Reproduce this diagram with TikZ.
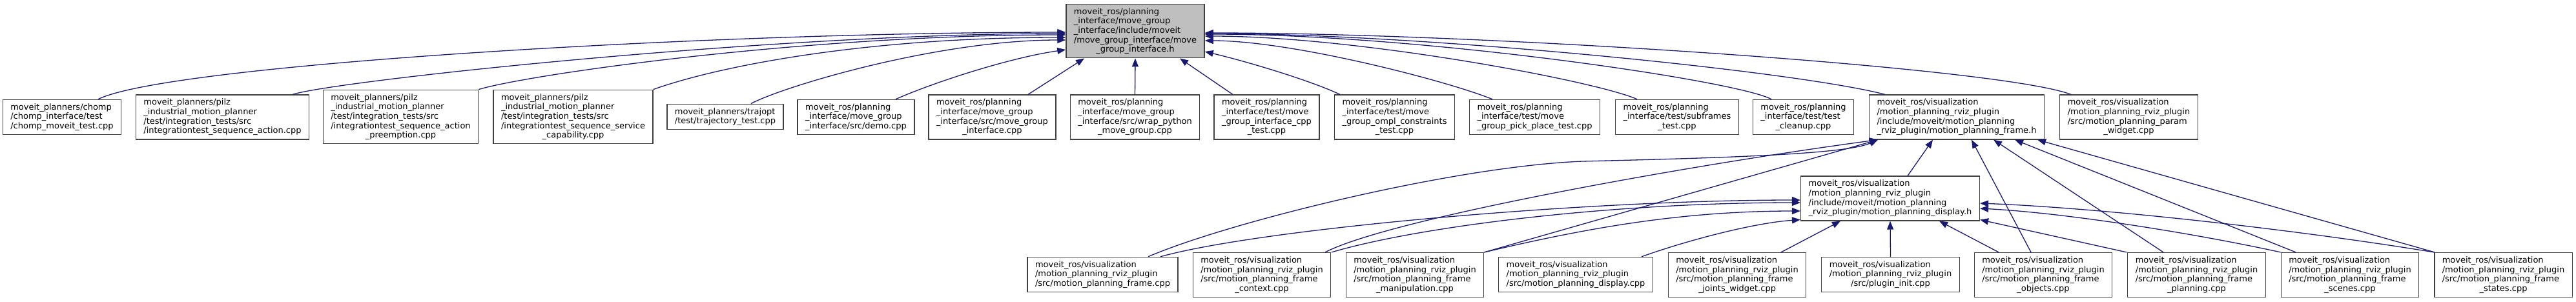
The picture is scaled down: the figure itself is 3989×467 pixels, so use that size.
\documentclass[tikz,border=0pt]{standalone}
\usepackage{fontspec}
\setmainfont{DejaVu Sans}
\usetikzlibrary{arrows.meta,calc}
\definecolor{midnight}{RGB}{25,25,112}
\definecolor{grey75}{RGB}{191,191,191}
\definecolor{boxline}{RGB}{64,64,64}
\newcommand{\lastln}[1]{\hfill#1\hfill\hbox{}}
\tikzset{
  >={Triangle[length=13pt,width=10pt]},
  file/.style={draw=boxline,line width=1.4pt,fill=white,align=left,
    inner xsep=12pt,inner ysep=0pt,minimum height={14.7pt*#1+10pt},
    font=\fontsize{13}{14.7}\selectfont},
  file/.default=3,
  main file/.style={file=#1,fill=grey75},
  dep/.style={->,draw=midnight,line width=1.3pt},
}
\begin{document}
\begin{tikzpicture}[x=1pt,y=-1pt]
  \fill[white] (0,0) rectangle (3989,467);
  \useasboundingbox (0,0) rectangle (3989,467);
  % the header itself
  \node[main file=5] (mgih) at (1758,48) {moveit\_ros/planning\\\_interface/move\_group\\\_interface/include/moveit\\/move\_group\_interface/move\\\lastln{\_group\_interface.h}};
  % direct includers
  \node[file=3] (chomp) at (96,181.5) {moveit\_planners/chomp\\/chomp\_interface/test\\/chomp\_moveit\_test.cpp};
  \node[file=4] (pilza) at (344.5,181.5) {moveit\_planners/pilz\\\_industrial\_motion\_planner\\/test/integration\_tests/src\\/integrationtest\_sequence\_action.cpp};
  \node[file=5] (pilzb) at (620.5,181) {moveit\_planners/pilz\\\_industrial\_motion\_planner\\/test/integration\_tests/src\\/integrationtest\_sequence\_action\\\lastln{\_preemption.cpp}};
  \node[file=5] (pilzc) at (887.5,181) {moveit\_planners/pilz\\\_industrial\_motion\_planner\\/test/integration\_tests/src\\/integrationtest\_sequence\_service\\\lastln{\_capability.cpp}};
  \node[file=2] (trajopt) at (1123,181) {moveit\_planners/trajopt\\/test/trajectory\_test.cpp};
  \node[file=3] (demo) at (1325.5,181.5) {moveit\_ros/planning\\\_interface/move\_group\\\_interface/src/demo.cpp};
  \node[file=4] (mgicpp) at (1536.5,181.5) {moveit\_ros/planning\\\_interface/move\_group\\\_interface/src/move\_group\\\lastln{\_interface.cpp}};
  \node[file=4] (wrap) at (1757.5,181.5) {moveit\_ros/planning\\\_interface/move\_group\\\_interface/src/wrap\_python\\\lastln{\_move\_group.cpp}};
  \node[file=4] (cpptest) at (1961.5,181.5) {moveit\_ros/planning\\\_interface/test/move\\\_group\_interface\_cpp\\\lastln{\_test.cpp}};
  \node[file=4] (ompl) at (2159.5,181.5) {moveit\_ros/planning\\\_interface/test/move\\\_group\_ompl\_constraints\\\lastln{\_test.cpp}};
  \node[file=3] (pick) at (2376.5,181.5) {moveit\_ros/planning\\\_interface/test/move\\\_group\_pick\_place\_test.cpp};
  \node[file=3] (subfr) at (2597,181.5) {moveit\_ros/planning\\\_interface/test/subframes\\\lastln{\_test.cpp}};
  \node[file=3] (cleanup) at (2792.5,181.5) {moveit\_ros/planning\\\_interface/test/test\\\lastln{\_cleanup.cpp}};
  \node[file=4] (frameh) at (3030,181.5) {moveit\_ros/visualization\\/motion\_planning\_rviz\_plugin\\/include/moveit/motion\_planning\\\_rviz\_plugin/motion\_planning\_frame.h};
  \node[file=4] (param) at (3296.5,181.5) {moveit\_ros/visualization\\/motion\_planning\_rviz\_plugin\\/src/motion\_planning\_param\\\lastln{\_widget.cpp}};
  \node[file=4] (disph) at (2927,307.5) {moveit\_ros/visualization\\/motion\_planning\_rviz\_plugin\\/include/moveit/motion\_planning\\\_rviz\_plugin/motion\_planning\_display.h};
  % rviz plugin sources
  \node[file=3] (framecpp) at (1707.5,425.5) {moveit\_ros/visualization\\/motion\_planning\_rviz\_plugin\\/src/motion\_planning\_frame.cpp};
  \node[file=4] (context) at (1954,426) {moveit\_ros/visualization\\/motion\_planning\_rviz\_plugin\\/src/motion\_planning\_frame\\\lastln{\_context.cpp}};
  \node[file=4] (manip) at (2191,426) {moveit\_ros/visualization\\/motion\_planning\_rviz\_plugin\\/src/motion\_planning\_frame\\\lastln{\_manipulation.cpp}};
  \node[file=3] (dispcpp) at (2440,425.5) {moveit\_ros/visualization\\/motion\_planning\_rviz\_plugin\\/src/motion\_planning\_display.cpp};
  \node[file=4] (joints) at (2690,426) {moveit\_ros/visualization\\/motion\_planning\_rviz\_plugin\\/src/motion\_planning\_frame\\\lastln{\_joints\_widget.cpp}};
  \node[file=3] (pinit) at (2927.5,425.5) {moveit\_ros/visualization\\/motion\_planning\_rviz\_plugin\\\lastln{/src/plugin\_init.cpp}};
  \node[file=4] (objects) at (3164,426) {moveit\_ros/visualization\\/motion\_planning\_rviz\_plugin\\/src/motion\_planning\_frame\\\lastln{\_objects.cpp}};
  \node[file=4] (planning) at (3401.5,426) {moveit\_ros/visualization\\/motion\_planning\_rviz\_plugin\\/src/motion\_planning\_frame\\\lastln{\_planning.cpp}};
  \node[file=4] (scenes) at (3639,426) {moveit\_ros/visualization\\/motion\_planning\_rviz\_plugin\\/src/motion\_planning\_frame\\\lastln{\_scenes.cpp}};
  \node[file=4] (states) at (3876.5,426) {moveit\_ros/visualization\\/motion\_planning\_rviz\_plugin\\/src/motion\_planning\_frame\\\lastln{\_states.cpp}};
  % into the header, left side
  \draw[dep] ($(chomp.north)+(56,0)$) .. controls (260,100) and (1100,50) .. ($(mgih.west)+(0,2)$);
  \draw[dep] ($(pilza.north)+(108.5,0)$) .. controls (520,125) and (1200,52) .. ($(mgih.west)+(0,4)$);
  \draw[dep] (pilzb.north east) .. controls (820,115) and (1250,54) .. ($(mgih.west)+(0,6)$);
  \draw[dep] (pilzc.north east) .. controls (1120,100) and (1350,58) .. ($(mgih.west)+(0,10)$);
  \draw[dep] ($(trajopt.north)+(40,0)$) .. controls (1210,135) and (1450,62) .. ($(mgih.west)+(0,14)$);
  \draw[dep] ($(demo.north)+(61.5,0)$) .. controls (1440,130) and (1560,90) .. ($(mgih.west)+(0,29)$);
  % from below
  \draw[dep] ($(mgicpp.north)+(55.5,0)$) -- ($(mgih.south)+(-79,0)$);
  \draw[dep] (wrap.north) -- (mgih.south);
  \draw[dep] ($(cpptest.north)+(-52.5,0)$) -- ($(mgih.south)+(69,0)$);
  % right side
  \draw[dep] ($(ompl.north)+(-84.5,0)$) .. controls (2030,125) and (1930,95) .. ($(mgih.east)+(0,32)$);
  \draw[dep] ($(pick.north)+(-65.5,0)$) .. controls (2240,125) and (2000,63) .. ($(mgih.east)+(0,15)$);
  \draw[dep] ($(subfr.north)+(-62,0)$) .. controls (2470,125) and (2100,56) .. ($(mgih.east)+(0,8)$);
  \draw[dep] ($(cleanup.north)+(-49.5,0)$) .. controls (2690,125) and (2200,53) .. ($(mgih.east)+(0,5)$);
  \draw[dep] ($(frameh.north)+(-111,0)$) .. controls (2780,110) and (2200,52) .. ($(mgih.east)+(0,4)$);
  \draw[dep] ($(param.north)+(-89.5,0)$) .. controls (3100,105) and (2300,51) .. ($(mgih.east)+(0,3)$);
  % into motion_planning_frame.h
  \draw[dep] ($(framecpp.north)+(70.5,0)$) .. controls (1900,345) and (2250,258) .. (2450,250) .. controls (2700,244) and (2860,238) .. ($(frameh.south)+(-122,0)$);
  \draw[dep] ($(context.north)+(98,0)$) .. controls (2150,340) and (2600,258) .. ($(frameh.south)+(-122,0)$);
  \draw[dep] (manip.north east) -- ($(frameh.south)+(-122,0)$);
  \draw[dep] ($(disph.north)+(27,0)$) -- ($(frameh.south)+(-37,0)$);
  \foreach \c/\dx/\ex in {objects/-19/23,planning/-51.5/57,scenes/-84/90,states/-106.5/125}
    \draw[dep] ($(\c.north)+(\dx,0)$) -- ($(frameh.south)+(\ex,0)$);
  % into motion_planning_display.h
  \draw[dep] ($(framecpp.north)+(89.5,0)$) .. controls (1950,355) and (2450,310) .. ($(disph.west)+(0,2.5)$);
  \draw[dep] ($(context.north)+(108,0)$) .. controls (2200,350) and (2500,314) .. ($(disph.west)+(0,6.5)$);
  \draw[dep] (manip.north east) .. controls (2450,355) and (2600,327) .. ($(disph.west)+(0,19.5)$);
  \draw[dep] ($(dispcpp.north)+(102,0)$) .. controls (2620,370) and (2720,345) .. ($(disph.west)+(0,33)$);
  \draw[dep] ($(joints.north)+(68,0)$) -- ($(disph.south)+(-77,0)$);
  \draw[dep] (pinit.north) -- (disph.south);
  \draw[dep] ($(objects.north)+(-69,0)$) -- ($(disph.south)+(76,0)$);
  \draw[dep] ($(planning.north)+(-108.5,0)$) -- ($(disph.east)+(0,33)$);
  \draw[dep] (scenes.north west) .. controls (3400,362) and (3200,330) .. ($(disph.east)+(0,15.5)$);
  \draw[dep] (states.north west) .. controls (3550,355) and (3250,322) .. ($(disph.east)+(0,7.5)$);
\end{tikzpicture}
\end{document}
